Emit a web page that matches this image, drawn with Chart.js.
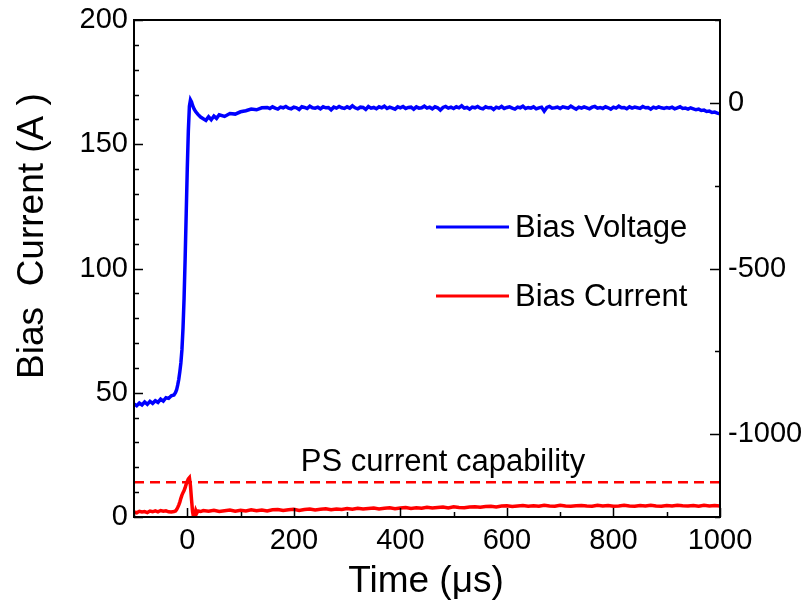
<!DOCTYPE html>
<html>
<head>
<meta charset="utf-8">
<script src="https://cdn.jsdelivr.net/npm/chart.js@4/dist/chart.umd.min.js"></script>
<style>
html,body{margin:0;padding:0;background:#fff;}
#c{display:block;}
</style>
</head>
<body>
<canvas id="c" width="810" height="603"></canvas>
<script>
// ---- Data ----
const seriesNames = ["Bias Voltage", "Bias Current"];
const psLabel = "PS current capability";
const xTitle = "Time (μs)";
const yTitle = "Bias  Current (A )";

// Bias Voltage (V, right axis) vs time (µs)
const timeV = [-100,-95,-90,-85,-80,-75,-70,-65,-60,-55,-50,-45,-40,-35,-30,-25,-22,-20,
  -18,-16,-14,-12,-10,-8,-6,-4,-2,0,2,4,6,8,10,13,16,20,25,30,35,40,45,50,55,60,
  70,80,90,100,110,120,130,140,
  150,155,160,165,170,175,180,185,190,195,
  200,205,210,215,220,225,230,235,240,245,
  250,255,260,265,270,275,280,285,290,295,
  300,305,310,315,320,325,330,335,340,345,
  350,355,360,365,370,375,380,385,390,395,
  400,405,410,415,420,425,430,435,440,445,
  450,455,460,465,470,475,480,485,490,495,
  500,505,510,515,520,525,530,535,540,545,
  550,555,560,565,570,575,580,585,590,595,
  600,605,610,615,620,625,630,635,640,645,
  650,655,660,665,670,675,680,685,690,695,
  700,705,710,715,720,725,730,735,740,745,
  750,755,760,765,770,775,780,785,790,795,
  800,805,810,815,820,825,830,835,840,845,
  850,855,860,865,870,875,880,885,890,895,
  900,905,910,915,920,925,930,935,940,945,
  950,955,960,965,970,975,980,985,990,995,1000];
const biasVoltage = [-909,-914,-906,-912,-903,-910,-901,-907,-899,-904,-894,-900,-890,-892,-884,-882,-874,-866,
  -852,-835,-812,-785,-745,-680,-590,-470,-335,-200,-85,-10,9,3,-8,-19,-27,-35,-43,-48,-53,-42,-51,-40,-47,-36,
  -41,-32,-34,-27,-24,-19,-21,-15,
  -14,-17,-12,-16,-19,-13,-15,-11,-16,-18,
  -13,-15,-20,-12,-14,-17,-10,-15,-16,-13,
  -18,-12,-15,-14,-21,-13,-16,-11,-15,-17,
  -12,-16,-9,-15,-18,-13,-14,-20,-11,-16,
  -14,-18,-12,-15,-10,-17,-13,-16,-19,-12,
  -15,-11,-17,-14,-13,-19,-12,-16,-15,-10,
  -16,-13,-18,-12,-15,-22,-14,-11,-16,-13,
  -17,-12,-15,-9,-16,-14,-19,-13,-15,-11,
  -16,-18,-12,-15,-14,-20,-13,-16,-11,-17,
  -14,-12,-16,-19,-13,-15,-10,-17,-14,-16,
  -12,-18,-15,-13,-25,-14,-11,-16,-15,-13,
  -17,-12,-14,-16,-10,-15,-19,-13,-16,-12,
  -15,-18,-13,-11,-16,-14,-17,-12,-15,-19,
  -13,-16,-10,-15,-14,-18,-12,-16,-13,-15,
  -17,-11,-15,-14,-19,-13,-16,-12,-15,-17,
  -14,-16,-13,-18,-15,-12,-17,-16,-19,-15,
  -18,-21,-19,-23,-22,-26,-25,-29,-28,-31,-33];

// Bias Current (A, left axis) vs time (µs)
const timeI = [-100,-95,-90,-85,-80,-75,-70,-65,-60,-55,-50,-45,-40,-35,-30,-25,
  -22,-20,-18,-16,-14,-12,-10,-8,-6,-4,-2,0,2,4,6,8,10,12,14,16,18,20,25,30,
  40,50,60,70,80,90,100,110,120,130,
  140,150,160,170,180,190,200,210,220,230,
  240,250,260,270,280,290,300,310,320,330,
  340,350,360,370,380,390,400,410,420,430,
  440,450,460,470,480,490,500,510,520,530,
  540,550,560,570,580,590,600,610,620,630,
  640,650,660,670,680,690,700,710,720,730,
  740,750,760,770,780,790,800,810,820,830,
  840,850,860,870,880,890,900,910,920,930,
  940,950,960,970,980,990,1000];
const biasCurrent = [2.0,1.7,2.3,2.0,2.2,1.8,2.4,2.1,2.5,2.1,2.6,2.3,2.5,2.1,2.0,2.2,
  2.4,3.0,3.8,4.8,6.0,7.5,8.8,9.8,10.6,11.8,13.2,14.3,15.3,15.8,12.5,7.0,2.0,-0.3,0.6,2.6,1.6,2.4,2.2,2.6,
  2.3,2.7,2.2,2.5,2.8,2.3,2.7,2.4,2.9,2.5,
  2.8,2.4,2.9,3.0,2.6,2.9,3.1,2.6,3.0,3.2,
  2.8,3.1,3.3,2.9,3.2,3.0,3.4,3.1,3.5,3.2,
  3.4,3.6,3.2,3.5,3.7,3.3,3.6,3.8,3.4,3.7,
  3.5,3.9,3.6,3.8,4.0,3.6,4.1,3.8,3.7,4.0,
  4.1,3.9,4.2,4.3,4.0,4.4,4.5,4.2,4.4,4.6,
  4.3,4.5,4.3,4.7,4.4,4.3,4.7,4.4,4.3,4.5,
  4.6,4.4,4.3,4.7,4.4,4.6,4.3,4.4,4.7,4.4,
  4.3,4.6,4.4,4.7,4.4,4.3,4.6,4.4,4.7,4.5,
  4.4,4.6,4.3,4.7,4.4,4.6,4.4];

// Power supply current capability (A)
const psTime = [-100, 1000];
const psCurrent = [14, 14];

// Axis tick labels
const xTickLabels = [0, 200, 400, 600, 800, 1000];
const yLeftTickLabels = [0, 50, 100, 150, 200];
const yRightTickLabels = [0, -500, -1000];

// ---- Build ----
const FONT = "'Liberation Sans', Arial, Helvetica, sans-serif";
const pts = (xs, ys) => xs.map((x, i) => ({x: x, y: ys[i]}));

const frameTicks = {
  id: 'frameTicks',
  afterDatasetsDraw(chart) {
    const ctx = chart.ctx, a = chart.chartArea;
    ctx.save();
    ctx.strokeStyle = '#000';
    ctx.lineWidth = 2;
    ctx.strokeRect(a.left, a.top, a.right - a.left, a.bottom - a.top);
    ctx.lineWidth = 1.5;
    const sx = chart.scales.x, yl = chart.scales.y, yr = chart.scales.yV;
    ctx.beginPath();
    sx.ticks.forEach(t => {
      const p = Math.round(sx.getPixelForValue(t.value)) + 0.5;
      const len = xTickLabels.includes(t.value) ? 9 : 5;
      ctx.moveTo(p, a.bottom); ctx.lineTo(p, a.bottom - len);
    });
    yl.ticks.forEach(t => {
      const p = Math.round(yl.getPixelForValue(t.value)) + 0.5;
      const len = yLeftTickLabels.includes(t.value) ? 9 : 5;
      ctx.moveTo(a.left, p); ctx.lineTo(a.left + len, p);
    });
    yr.ticks.forEach(t => {
      const p = Math.round(yr.getPixelForValue(t.value)) + 0.5;
      const len = yRightTickLabels.includes(t.value) ? 10 : 5;
      ctx.moveTo(a.right, p); ctx.lineTo(a.right - len, p);
    });
    ctx.stroke();

    // legend
    ctx.font = '31px ' + FONT;
    ctx.textBaseline = 'middle';
    ctx.textAlign = 'left';
    const legendRows = [{ds: chart.data.datasets[0], y: 227}, {ds: chart.data.datasets[1], y: 296}];
    legendRows.forEach(r => {
      ctx.strokeStyle = r.ds.borderColor;
      ctx.lineWidth = 3;
      ctx.beginPath(); ctx.moveTo(436, r.y); ctx.lineTo(509, r.y); ctx.stroke();
      ctx.fillStyle = '#000';
      ctx.fillText(r.ds.label, 515, r.y + 1);
    });
    // PS label
    ctx.textAlign = 'center';
    ctx.textBaseline = 'alphabetic';
    ctx.fillText(psLabel, 443, 471);

    // axis titles
    ctx.font = '37px ' + FONT;
    ctx.fillText(xTitle, 426, 592);
    ctx.translate(43, 236);
    ctx.rotate(-Math.PI / 2);
    ctx.fillText(yTitle, 0, 0);
    ctx.restore();
  }
};

new Chart(document.getElementById('c'), {
  type: 'line',
  data: {
    datasets: [
      {label: seriesNames[0], data: pts(timeV, biasVoltage), yAxisID: 'yV', borderColor: '#0000ff',
       borderWidth: 3.5, pointRadius: 0, tension: 0, fill: false},
      {label: seriesNames[1], data: pts(timeI, biasCurrent), yAxisID: 'y', borderColor: '#ff0000',
       borderWidth: 3.5, pointRadius: 0, tension: 0, fill: false},
      {label: psLabel, data: pts(psTime, psCurrent), yAxisID: 'y', borderColor: '#ff0000',
       borderWidth: 2.5, borderDash: [10, 6], pointRadius: 0, fill: false}
    ]
  },
  options: {
    responsive: false,
    animation: false,
    events: [],
    layout: {padding: {top: 20, left: 0, right: 0, bottom: 0}},
    plugins: {legend: {display: false}, tooltip: {enabled: false}},
    scales: {
      x: {
        type: 'linear', position: 'bottom', min: -100, max: 1000,
        afterFit(s) { s.height = 86; s.paddingLeft = 0; s.paddingRight = 0; },
        grid: {display: false, drawTicks: false},
        border: {display: false},
        ticks: {stepSize: 100, autoSkip: false, maxRotation: 0, padding: 7, color: '#000',
          font: {family: FONT, size: 29},
          callback: v => xTickLabels.includes(v) ? String(v) : ''}
      },
      y: {
        type: 'linear', position: 'left', min: 0, max: 200,
        afterFit(s) { s.width = 134; s.paddingTop = 0; s.paddingBottom = 0; },
        grid: {display: false, drawTicks: false},
        border: {display: false},
        ticks: {stepSize: 10, autoSkip: false, padding: 6, color: '#000',
          font: {family: FONT, size: 29},
          callback: v => yLeftTickLabels.includes(v) ? String(v) : ''}
      },
      yV: {
        type: 'linear', position: 'right', min: -1250, max: 250,
        afterFit(s) { s.width = 90; s.paddingTop = 0; s.paddingBottom = 0; },
        grid: {display: false, drawTicks: false},
        border: {display: false},
        ticks: {stepSize: 250, autoSkip: false, padding: 8, color: '#000',
          font: {family: FONT, size: 29},
          callback: v => yRightTickLabels.includes(v) ? String(v) : ''}
      }
    }
  },
  plugins: [frameTicks]
});
</script>
</body>
</html>
